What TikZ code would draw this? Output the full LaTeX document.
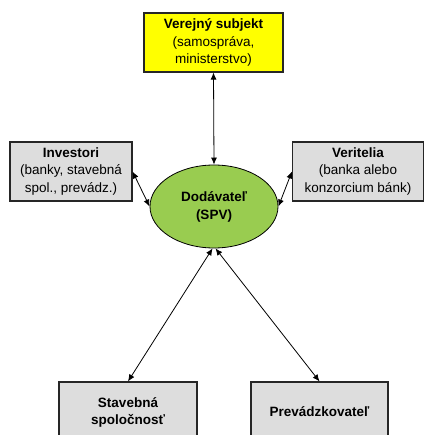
\documentclass[tikz,border=0pt]{standalone}
\usepackage{fontspec}
\setmainfont{Liberation Sans}
\usetikzlibrary{shapes.geometric,arrows.meta}
\definecolor{boxgray}{RGB}{221,221,221}
\definecolor{spvgreen}{RGB}{153,204,80}
\definecolor{pubyellow}{RGB}{255,255,0}
\tikzset{
  box/.style={draw=black!85, line width=1.1pt, rectangle, align=center, inner sep=1pt,
    font=\fontsize{13.5}{17.5}\selectfont},
  conn/.style={line width=0.8pt, {Latex[length=7pt,width=6pt]}-{Latex[length=7pt,width=6pt]}}
}
\begin{document}
\begin{tikzpicture}[x=1pt,y=-1pt]
\useasboundingbox (0,0) rectangle (425,435);
\node[box, fill=pubyellow, minimum width=139pt, minimum height=59pt] (pub) at (213.5,42.5)
  {\textbf{Verejný subjekt}\\(samospráva,\\ministerstvo)};
\node[box, fill=boxgray, minimum width=122pt, minimum height=59pt] (inv) at (71,171.5)
  {\textbf{Investori}\\(banky, stavebná\\spol., prevádz.)};
\node[box, fill=boxgray, minimum width=131pt, minimum height=59pt] (ver) at (358,171.5)
  {\textbf{Veritelia}\\(banka alebo\\konzorcium bánk)};
\node[draw=black, line width=0.8pt, ellipse, fill=spvgreen, minimum width=128pt, minimum height=83pt,
  inner sep=0pt, align=center, font=\fontsize{13.5}{18}\selectfont\bfseries] (dod) at (214,206.5)
  {Dodávateľ\\(SPV)};
\node[box, fill=boxgray, minimum width=138pt, minimum height=60pt, font=\fontsize{13.5}{17}\selectfont\bfseries] (stav) at (128,412)
  {Stavebná\\spoločnosť};
\node[box, fill=boxgray, minimum width=137pt, minimum height=60pt, font=\fontsize{13.5}{17}\selectfont\bfseries] (prev) at (319.5,412)
  {Prevádzkovateľ};
\draw[conn] (pub.south) -- (dod.north);
\draw[conn] (inv.east) -- (dod.west);
\draw[conn] (ver.west) -- (dod.east);
\draw[conn] (dod.268) -- (stav.north);
\draw[conn] (dod.272) -- (prev.north);
\end{tikzpicture}
\end{document}
